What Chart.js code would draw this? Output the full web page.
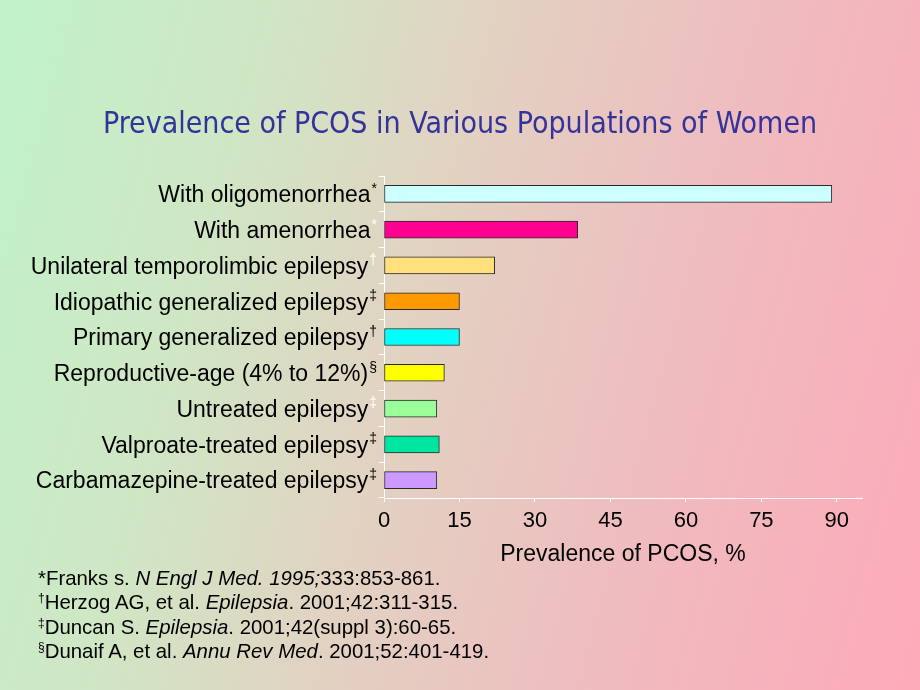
<!DOCTYPE html>
<html>
<head>
<meta charset="utf-8">
<script src="https://cdn.jsdelivr.net/npm/chart.js@4"></script>
<style>
  html, body { margin: 0; padding: 0; }
  body {
    width: 920px; height: 690px; overflow: hidden; position: relative;
    background: linear-gradient(105deg, #c0f3c8 0%, #d0e6c4 25%, #e2d2c2 45%, #efbcbf 70%, #fdaab9 100%);
    font-family: "Liberation Sans", Arial, sans-serif;
  }
  #wrap { position: absolute; left: 0; top: 0; width: 920px; height: 690px; }
  #notes {
    position: absolute; left: 38px; top: 566px; font-size: 20.4px; line-height: 24.3px; color: #000;
    font-family: "Liberation Sans", Arial, sans-serif;
  }
  #notes sup { font-size: 12px; vertical-align: 7px; line-height: 0; }
</style>
</head>
<body>
<div id="wrap"><canvas id="c" width="920" height="690"></canvas></div>
<div id="notes">
  <div>*Franks s. <i>N Engl J Med. 1995;</i>333:853-861.</div>
  <div><sup>†</sup>Herzog AG, et al. <i>Epilepsia</i>. 2001;42:311-315.</div>
  <div><sup>‡</sup>Duncan S. <i>Epilepsia</i>. 2001;42(suppl 3):60-65.</div>
  <div><sup>§</sup>Dunaif A, et al. <i>Annu Rev Med</i>. 2001;52:401-419.</div>
</div>
<script>
const categories = [
  "With oligomenorrhea",
  "With amenorrhea",
  "Unilateral temporolimbic epilepsy",
  "Idiopathic generalized epilepsy",
  "Primary generalized epilepsy",
  "Reproductive-age (4% to 12%)",
  "Untreated epilepsy",
  "Valproate-treated epilepsy",
  "Carbamazepine-treated epilepsy"
];
const refMarks = ["*", "*", "†", "‡", "†", "§", "‡", "‡", "‡"];
const refMarkColors = ["#000", "#fff", "#fff", "#000", "#000", "#000", "#fff", "#000", "#000"];
const prevalence = [89, 38.5, 22, 15, 15, 12, 10.5, 11, 10.5];
const barColors = ["#ccffff", "#ff0090", "#ffe07c", "#ff9900", "#00ffff", "#ffff00", "#99ff99", "#00e6a0", "#cc99ff"];
const xTicks = [0, 15, 30, 45, 60, 75, 90];

const labelPlugin = {
  id: "catLabels",
  afterDraw(chart) {
    const ctx = chart.ctx;
    const y = chart.scales.y;
    const right = y.right - 7;
    ctx.save();
    ctx.textBaseline = "middle";
    categories.forEach((lab, i) => {
      const py = y.getPixelForTick(i);
      ctx.font = "14px 'Liberation Sans', Arial, sans-serif";
      const mw = ctx.measureText(refMarks[i]).width;
      ctx.textAlign = "left";
      ctx.fillStyle = refMarkColors[i];
      ctx.fillText(refMarks[i], right - mw, py - 5);
      ctx.font = "23px 'Liberation Sans', Arial, sans-serif";
      ctx.textAlign = "right";
      ctx.fillStyle = "#000";
      ctx.fillText(lab, right - mw - 1, py + 2);
    });
    ctx.restore();
  }
};

new Chart(document.getElementById("c"), {
  type: "bar",
  data: {
    labels: categories,
    datasets: [{
      data: prevalence,
      backgroundColor: barColors,
      borderColor: "#2a2a2a",
      borderWidth: 1,
      borderSkipped: false,
      barThickness: 17
    }]
  },
  options: {
    indexAxis: "y",
    responsive: false,
    animation: false,
    events: [],
    layout: { padding: { top: 0, right: 0, bottom: 122, left: 0 } },
    plugins: {
      legend: { display: false },
      tooltip: { enabled: false },
      title: {
        display: true,
        text: "Prevalence of PCOS in Various Populations of Women",
        color: "#333399",
        font: { family: "'DejaVu Sans Condensed', 'DejaVu Sans', sans-serif", size: 30, weight: "normal" },
        padding: { top: 107, bottom: 33 }
      }
    },
    scales: {
      x: {
        type: "linear",
        min: 0,
        max: 95,
        afterBuildTicks(scale) { scale.ticks = xTicks.map(v => ({ value: v })); },
        afterFit(scale) { scale.paddingRight = 58; },
        ticks: { color: "#000", font: { family: "'Liberation Sans', Arial, sans-serif", size: 22 }, padding: 6 },
        grid: { display: true, drawOnChartArea: false, color: "#ffffff", tickLength: 4 },
        border: { color: "#ffffff", width: 1 },
        title: {
          display: true,
          text: "Prevalence of PCOS, %",
          color: "#000",
          font: { family: "'Liberation Sans', Arial, sans-serif", size: 23 },
          padding: { top: 0, bottom: 0 }
        }
      },
      y: {
        type: "category",
        ticks: { display: false },
        afterFit(scale) { scale.width = 384; },
        grid: { display: true, drawOnChartArea: false, color: "#ffffff", tickLength: 5, offset: true },
        border: { color: "#ffffff", width: 1 }
      }
    }
  },
  plugins: [labelPlugin]
});
</script>
</body>
</html>
